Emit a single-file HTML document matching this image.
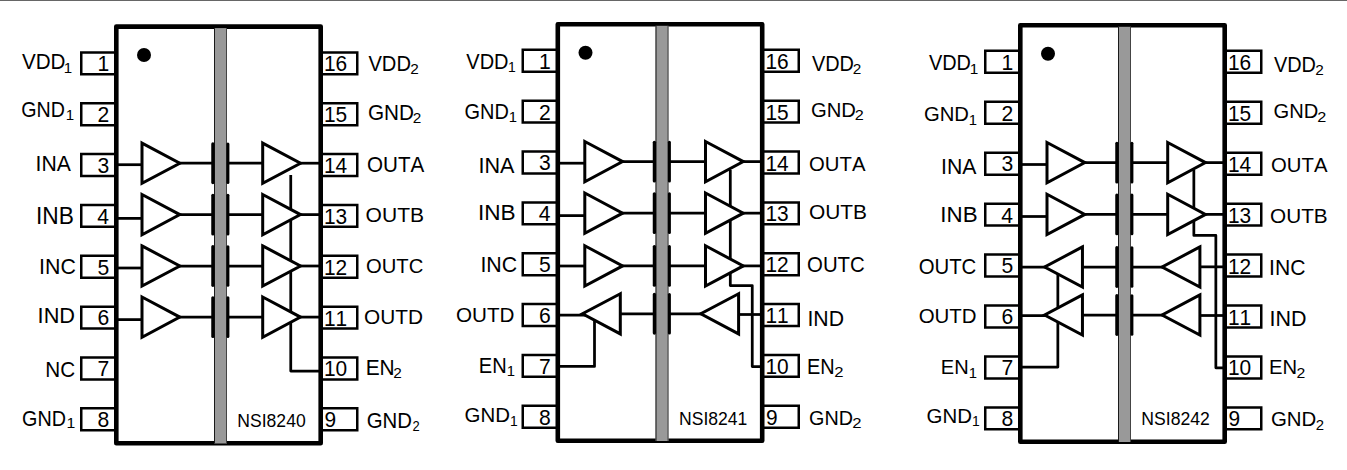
<!DOCTYPE html>
<html><head><meta charset="utf-8"><style>
html,body{margin:0;padding:0;background:#fff;}
body{width:1347px;height:470px;overflow:hidden;position:relative;}
.top{position:absolute;left:0;top:0;width:1347px;height:1px;background:#666;}
.top2{position:absolute;left:0;top:1px;width:1347px;height:1px;background:#fff;}
svg{position:absolute;left:0;top:0;}
text{font-family:"Liberation Sans",sans-serif;font-kerning:none;fill:#000;}
</style></head><body>
<svg width="1347" height="470" viewBox="0 0 1347 470">
<path d="M117,164.70 H146" fill="none" stroke="#000" stroke-width="2.75"/>
<path d="M175,163.20 H213" fill="none" stroke="#000" stroke-width="2.75"/>
<path d="M227,163.20 H266" fill="none" stroke="#000" stroke-width="2.75"/>
<path d="M295,163.20 H320" fill="none" stroke="#000" stroke-width="2.75"/>
<path d="M117,218.40 H146" fill="none" stroke="#000" stroke-width="2.75"/>
<path d="M175,214.60 H213" fill="none" stroke="#000" stroke-width="2.75"/>
<path d="M227,214.60 H266" fill="none" stroke="#000" stroke-width="2.75"/>
<path d="M295,214.60 H320" fill="none" stroke="#000" stroke-width="2.75"/>
<path d="M117,268.00 H146" fill="none" stroke="#000" stroke-width="2.75"/>
<path d="M175,266.00 H213" fill="none" stroke="#000" stroke-width="2.75"/>
<path d="M227,266.00 H266" fill="none" stroke="#000" stroke-width="2.75"/>
<path d="M295,266.00 H320" fill="none" stroke="#000" stroke-width="2.75"/>
<path d="M117,319.60 H146" fill="none" stroke="#000" stroke-width="2.75"/>
<path d="M175,317.10 H213" fill="none" stroke="#000" stroke-width="2.75"/>
<path d="M227,317.10 H266" fill="none" stroke="#000" stroke-width="2.75"/>
<path d="M295,317.10 H320" fill="none" stroke="#000" stroke-width="2.75"/>
<path d="M290.75,175 V371.1 H320" fill="none" stroke="#000" stroke-width="2.75" stroke-linejoin="round"/>
<path d="M142.00,143.10 L179.80,163.20 L142.00,183.30 Z" fill="#fff" stroke="#000" stroke-width="3.0" stroke-linejoin="miter"/>
<path d="M262.70,143.10 L300.50,163.20 L262.70,183.30 Z" fill="#fff" stroke="#000" stroke-width="3.0" stroke-linejoin="miter"/>
<path d="M142.00,194.50 L179.80,214.60 L142.00,234.70 Z" fill="#fff" stroke="#000" stroke-width="3.0" stroke-linejoin="miter"/>
<path d="M262.70,194.50 L300.50,214.60 L262.70,234.70 Z" fill="#fff" stroke="#000" stroke-width="3.0" stroke-linejoin="miter"/>
<path d="M142.00,245.90 L179.80,266.00 L142.00,286.10 Z" fill="#fff" stroke="#000" stroke-width="3.0" stroke-linejoin="miter"/>
<path d="M262.70,245.90 L300.50,266.00 L262.70,286.10 Z" fill="#fff" stroke="#000" stroke-width="3.0" stroke-linejoin="miter"/>
<path d="M142.00,297.00 L179.80,317.10 L142.00,337.20 Z" fill="#fff" stroke="#000" stroke-width="3.0" stroke-linejoin="miter"/>
<path d="M262.70,297.00 L300.50,317.10 L262.70,337.20 Z" fill="#fff" stroke="#000" stroke-width="3.0" stroke-linejoin="miter"/>
<path d="M116,52.40 H81.25 V74.30 H116" fill="#fff" stroke="#000" stroke-width="2.5"/>
<path d="M321,52.40 H357.25 V74.30 H321" fill="#fff" stroke="#000" stroke-width="2.5"/>
<path d="M116,103.25 H81.25 V125.15 H116" fill="#fff" stroke="#000" stroke-width="2.5"/>
<path d="M321,103.25 H357.25 V125.15 H321" fill="#fff" stroke="#000" stroke-width="2.5"/>
<path d="M116,154.10 H81.25 V176.00 H116" fill="#fff" stroke="#000" stroke-width="2.5"/>
<path d="M321,154.10 H357.25 V176.00 H321" fill="#fff" stroke="#000" stroke-width="2.5"/>
<path d="M116,204.95 H81.25 V226.85 H116" fill="#fff" stroke="#000" stroke-width="2.5"/>
<path d="M321,204.95 H357.25 V226.85 H321" fill="#fff" stroke="#000" stroke-width="2.5"/>
<path d="M116,255.80 H81.25 V277.70 H116" fill="#fff" stroke="#000" stroke-width="2.5"/>
<path d="M321,255.80 H357.25 V277.70 H321" fill="#fff" stroke="#000" stroke-width="2.5"/>
<path d="M116,306.65 H81.25 V328.55 H116" fill="#fff" stroke="#000" stroke-width="2.5"/>
<path d="M321,306.65 H357.25 V328.55 H321" fill="#fff" stroke="#000" stroke-width="2.5"/>
<path d="M116,357.50 H81.25 V379.40 H116" fill="#fff" stroke="#000" stroke-width="2.5"/>
<path d="M321,357.50 H357.25 V379.40 H321" fill="#fff" stroke="#000" stroke-width="2.5"/>
<path d="M116,408.35 H81.25 V430.25 H116" fill="#fff" stroke="#000" stroke-width="2.5"/>
<path d="M321,408.35 H357.25 V430.25 H321" fill="#fff" stroke="#000" stroke-width="2.5"/>
<rect x="116.3" y="26.6" width="204.4" height="416.59999999999997" fill="none" stroke="#000" stroke-width="4.6" stroke-linejoin="round"/>
<rect x="214" y="28.1" width="13" height="415.4" fill="#999"/>
<rect x="214" y="28.1" width="1.0" height="415.4" fill="#1a1a1a"/>
<rect x="226" y="28.1" width="1.0" height="415.4" fill="#444"/>
<line x1="212.9" y1="143.90" x2="212.9" y2="182.50" stroke="#000" stroke-width="3.3" stroke-linecap="round"/>
<line x1="227.9" y1="143.90" x2="227.9" y2="182.50" stroke="#000" stroke-width="3.0" stroke-linecap="round"/>
<line x1="212.9" y1="195.30" x2="212.9" y2="233.90" stroke="#000" stroke-width="3.3" stroke-linecap="round"/>
<line x1="227.9" y1="195.30" x2="227.9" y2="233.90" stroke="#000" stroke-width="3.0" stroke-linecap="round"/>
<line x1="212.9" y1="246.70" x2="212.9" y2="285.30" stroke="#000" stroke-width="3.3" stroke-linecap="round"/>
<line x1="227.9" y1="246.70" x2="227.9" y2="285.30" stroke="#000" stroke-width="3.0" stroke-linecap="round"/>
<line x1="212.9" y1="297.80" x2="212.9" y2="336.40" stroke="#000" stroke-width="3.3" stroke-linecap="round"/>
<line x1="227.9" y1="297.80" x2="227.9" y2="336.40" stroke="#000" stroke-width="3.0" stroke-linecap="round"/>
<circle cx="144" cy="55.00" r="7"/>
<text transform="translate(97.59,71.35) scale(0.9600,1)" font-size="22.00">1</text>
<text transform="translate(324.01,71.24) scale(0.9500,1)" font-size="22.00">16</text>
<text transform="translate(97.62,122.20) scale(0.9600,1)" font-size="22.00">2</text>
<text transform="translate(324.01,122.09) scale(0.9500,1)" font-size="22.00">15</text>
<text transform="translate(97.48,172.84) scale(0.9600,1)" font-size="22.00">3</text>
<text transform="translate(324.01,173.15) scale(0.9500,1)" font-size="22.00">14</text>
<text transform="translate(97.17,223.90) scale(0.9600,1)" font-size="22.00">4</text>
<text transform="translate(324.01,223.79) scale(0.9500,1)" font-size="22.00">13</text>
<text transform="translate(97.44,274.54) scale(0.9600,1)" font-size="22.00">5</text>
<text transform="translate(324.01,274.85) scale(0.9500,1)" font-size="22.00">12</text>
<text transform="translate(97.48,325.39) scale(0.9600,1)" font-size="22.00">6</text>
<text transform="translate(324.01,325.70) scale(0.9500,1)" font-size="22.00">11</text>
<text transform="translate(97.62,376.45) scale(0.9600,1)" font-size="22.00">7</text>
<text transform="translate(324.01,376.34) scale(0.9500,1)" font-size="22.00">10</text>
<text transform="translate(97.47,427.09) scale(0.9600,1)" font-size="22.00">8</text>
<text transform="translate(324.62,427.19) scale(0.9500,1)" font-size="22.00">9</text>
<text transform="translate(21.91,69.00) scale(0.9161,1)" font-size="22.53">VDD</text><text transform="translate(63.85,72.80) scale(1.0617,1)" font-size="14.20">1</text>
<text transform="translate(21.21,116.59) scale(0.9107,1)" font-size="21.61">GND</text><text transform="translate(65.85,119.80) scale(1.0617,1)" font-size="14.20">1</text>
<text transform="translate(35.55,170.80) scale(0.9220,1)" font-size="22.97">INA</text>
<text transform="translate(36.00,224.00) scale(0.9837,1)" font-size="23.11">INB</text>
<text transform="translate(39.03,273.78) scale(0.9694,1)" font-size="22.03">INC</text>
<text transform="translate(37.59,323.00) scale(0.9973,1)" font-size="21.80">IND</text>
<text transform="translate(45.30,377.39) scale(0.9638,1)" font-size="21.47">NC</text>
<text transform="translate(22.01,425.79) scale(0.9333,1)" font-size="21.19">GND</text><text transform="translate(66.40,428.40) scale(1.1107,1)" font-size="14.20">1</text>
<text transform="translate(368.41,70.80) scale(0.8776,1)" font-size="22.97">VDD</text><text transform="translate(410.23,74.00) scale(1.0821,1)" font-size="14.20">2</text>
<text transform="translate(367.96,119.79) scale(0.9778,1)" font-size="21.19">GND</text><text transform="translate(412.83,122.60) scale(1.0821,1)" font-size="14.20">2</text>
<text transform="translate(367.02,172.39) scale(0.9675,1)" font-size="21.33">OUTA</text>
<text transform="translate(365.60,222.20) scale(1.0076,1)" font-size="20.90">OUTB</text>
<text transform="translate(366.04,272.80) scale(0.9813,1)" font-size="20.62">OUTC</text>
<text transform="translate(364.01,324.20) scale(0.9960,1)" font-size="20.90">OUTD</text>
<text transform="translate(365.69,375.00) scale(0.9580,1)" font-size="21.80">EN</text><text transform="translate(393.23,378.40) scale(1.0821,1)" font-size="14.20">2</text>
<text transform="translate(366.67,427.79) scale(0.9622,1)" font-size="21.19">GND</text><text transform="translate(412.55,431.40) scale(0.9120,1)" font-size="14.20">2</text>
<text transform="translate(237.36,426.82) scale(0.9562,1)" font-size="18.36">NSI8240</text>
<path d="M558.5,163.20 H587.5" fill="none" stroke="#000" stroke-width="2.75"/>
<path d="M616.5,161.60 H654.5" fill="none" stroke="#000" stroke-width="2.75"/>
<path d="M668.5,161.60 H707.5" fill="none" stroke="#000" stroke-width="2.75"/>
<path d="M736.5,161.60 H761.5" fill="none" stroke="#000" stroke-width="2.75"/>
<path d="M558.5,215.60 H587.5" fill="none" stroke="#000" stroke-width="2.75"/>
<path d="M616.5,213.15 H654.5" fill="none" stroke="#000" stroke-width="2.75"/>
<path d="M668.5,213.15 H707.5" fill="none" stroke="#000" stroke-width="2.75"/>
<path d="M736.5,213.15 H761.5" fill="none" stroke="#000" stroke-width="2.75"/>
<path d="M558.5,266.00 H587.5" fill="none" stroke="#000" stroke-width="2.75"/>
<path d="M616.5,265.90 H654.5" fill="none" stroke="#000" stroke-width="2.75"/>
<path d="M668.5,265.90 H707.5" fill="none" stroke="#000" stroke-width="2.75"/>
<path d="M736.5,265.90 H761.5" fill="none" stroke="#000" stroke-width="2.75"/>
<path d="M558.5,315.00 H591.5" fill="none" stroke="#000" stroke-width="2.75"/>
<path d="M616.5,313.80 H654.5" fill="none" stroke="#000" stroke-width="2.75"/>
<path d="M668.5,313.80 H707.5" fill="none" stroke="#000" stroke-width="2.75"/>
<path d="M733.5,314.50 H761.5" fill="none" stroke="#000" stroke-width="2.75"/>
<path d="M594.5,320 V366.4 H558" fill="none" stroke="#000" stroke-width="2.75" stroke-linejoin="round"/>
<path d="M730.3,170 V285.6 H752.25 V366.6 H762" fill="none" stroke="#000" stroke-width="2.75" stroke-linejoin="round"/>
<path d="M584.80,141.50 L622.60,161.60 L584.80,181.70 Z" fill="#fff" stroke="#000" stroke-width="3.0" stroke-linejoin="miter"/>
<path d="M705.50,141.50 L743.30,161.60 L705.50,181.70 Z" fill="#fff" stroke="#000" stroke-width="3.0" stroke-linejoin="miter"/>
<path d="M584.80,193.05 L622.60,213.15 L584.80,233.25 Z" fill="#fff" stroke="#000" stroke-width="3.0" stroke-linejoin="miter"/>
<path d="M705.50,193.05 L743.30,213.15 L705.50,233.25 Z" fill="#fff" stroke="#000" stroke-width="3.0" stroke-linejoin="miter"/>
<path d="M584.80,245.80 L622.60,265.90 L584.80,286.00 Z" fill="#fff" stroke="#000" stroke-width="3.0" stroke-linejoin="miter"/>
<path d="M705.50,245.80 L743.30,265.90 L705.50,286.00 Z" fill="#fff" stroke="#000" stroke-width="3.0" stroke-linejoin="miter"/>
<path d="M620.30,293.70 L582.50,313.80 L620.30,333.90 Z" fill="#fff" stroke="#000" stroke-width="3.0" stroke-linejoin="miter"/>
<path d="M738.60,293.70 L700.80,313.80 L738.60,333.90 Z" fill="#fff" stroke="#000" stroke-width="3.0" stroke-linejoin="miter"/>
<path d="M557.5,49.80 H522.75 V71.70 H557.5" fill="#fff" stroke="#000" stroke-width="2.5"/>
<path d="M762.5,49.80 H798.75 V71.70 H762.5" fill="#fff" stroke="#000" stroke-width="2.5"/>
<path d="M557.5,100.66 H522.75 V122.56 H557.5" fill="#fff" stroke="#000" stroke-width="2.5"/>
<path d="M762.5,100.66 H798.75 V122.56 H762.5" fill="#fff" stroke="#000" stroke-width="2.5"/>
<path d="M557.5,151.52 H522.75 V173.42 H557.5" fill="#fff" stroke="#000" stroke-width="2.5"/>
<path d="M762.5,151.52 H798.75 V173.42 H762.5" fill="#fff" stroke="#000" stroke-width="2.5"/>
<path d="M557.5,202.38 H522.75 V224.28 H557.5" fill="#fff" stroke="#000" stroke-width="2.5"/>
<path d="M762.5,202.38 H798.75 V224.28 H762.5" fill="#fff" stroke="#000" stroke-width="2.5"/>
<path d="M557.5,253.24 H522.75 V275.14 H557.5" fill="#fff" stroke="#000" stroke-width="2.5"/>
<path d="M762.5,253.24 H798.75 V275.14 H762.5" fill="#fff" stroke="#000" stroke-width="2.5"/>
<path d="M557.5,304.10 H522.75 V326.00 H557.5" fill="#fff" stroke="#000" stroke-width="2.5"/>
<path d="M762.5,304.10 H798.75 V326.00 H762.5" fill="#fff" stroke="#000" stroke-width="2.5"/>
<path d="M557.5,354.96 H522.75 V376.86 H557.5" fill="#fff" stroke="#000" stroke-width="2.5"/>
<path d="M762.5,354.96 H798.75 V376.86 H762.5" fill="#fff" stroke="#000" stroke-width="2.5"/>
<path d="M557.5,405.82 H522.75 V427.72 H557.5" fill="#fff" stroke="#000" stroke-width="2.5"/>
<path d="M762.5,405.82 H798.75 V427.72 H762.5" fill="#fff" stroke="#000" stroke-width="2.5"/>
<rect x="557.8" y="24.3" width="204.4" height="416.4" fill="none" stroke="#000" stroke-width="4.6" stroke-linejoin="round"/>
<rect x="655.5" y="25.8" width="13" height="415.2" fill="#999"/>
<rect x="655.5" y="25.8" width="1.0" height="415.2" fill="#1a1a1a"/>
<rect x="667.5" y="25.8" width="1.0" height="415.2" fill="#444"/>
<line x1="654.4" y1="142.30" x2="654.4" y2="180.90" stroke="#000" stroke-width="3.3" stroke-linecap="round"/>
<line x1="669.4" y1="142.30" x2="669.4" y2="180.90" stroke="#000" stroke-width="3.0" stroke-linecap="round"/>
<line x1="654.4" y1="193.85" x2="654.4" y2="232.45" stroke="#000" stroke-width="3.3" stroke-linecap="round"/>
<line x1="669.4" y1="193.85" x2="669.4" y2="232.45" stroke="#000" stroke-width="3.0" stroke-linecap="round"/>
<line x1="654.4" y1="246.60" x2="654.4" y2="285.20" stroke="#000" stroke-width="3.3" stroke-linecap="round"/>
<line x1="669.4" y1="246.60" x2="669.4" y2="285.20" stroke="#000" stroke-width="3.0" stroke-linecap="round"/>
<line x1="654.4" y1="294.50" x2="654.4" y2="333.10" stroke="#000" stroke-width="3.3" stroke-linecap="round"/>
<line x1="669.4" y1="294.50" x2="669.4" y2="333.10" stroke="#000" stroke-width="3.0" stroke-linecap="round"/>
<circle cx="585.5" cy="52.70" r="7"/>
<text transform="translate(539.09,68.75) scale(0.9600,1)" font-size="22.00">1</text>
<text transform="translate(765.51,68.64) scale(0.9500,1)" font-size="22.00">16</text>
<text transform="translate(539.12,119.61) scale(0.9600,1)" font-size="22.00">2</text>
<text transform="translate(765.51,119.50) scale(0.9500,1)" font-size="22.00">15</text>
<text transform="translate(538.98,170.26) scale(0.9600,1)" font-size="22.00">3</text>
<text transform="translate(765.51,170.57) scale(0.9500,1)" font-size="22.00">14</text>
<text transform="translate(538.67,221.33) scale(0.9600,1)" font-size="22.00">4</text>
<text transform="translate(765.51,221.22) scale(0.9500,1)" font-size="22.00">13</text>
<text transform="translate(538.94,271.98) scale(0.9600,1)" font-size="22.00">5</text>
<text transform="translate(765.51,272.29) scale(0.9500,1)" font-size="22.00">12</text>
<text transform="translate(538.98,322.84) scale(0.9600,1)" font-size="22.00">6</text>
<text transform="translate(765.51,323.15) scale(0.9500,1)" font-size="22.00">11</text>
<text transform="translate(539.12,373.91) scale(0.9600,1)" font-size="22.00">7</text>
<text transform="translate(765.51,373.80) scale(0.9500,1)" font-size="22.00">10</text>
<text transform="translate(538.97,424.56) scale(0.9600,1)" font-size="22.00">8</text>
<text transform="translate(766.12,424.66) scale(0.9500,1)" font-size="22.00">9</text>
<text transform="translate(466.31,69.00) scale(0.8939,1)" font-size="22.38">VDD</text><text transform="translate(507.94,72.40) scale(0.9800,1)" font-size="14.20">1</text>
<text transform="translate(464.60,119.39) scale(0.9298,1)" font-size="21.47">GND</text><text transform="translate(508.87,122.40) scale(1.0453,1)" font-size="14.20">1</text>
<text transform="translate(478.40,173.00) scale(0.9658,1)" font-size="22.38">INA</text>
<text transform="translate(477.91,220.40) scale(1.0097,1)" font-size="22.38">INB</text>
<text transform="translate(480.43,271.78) scale(0.9694,1)" font-size="22.03">INC</text>
<text transform="translate(456.02,322.20) scale(0.9890,1)" font-size="20.90">OUTD</text>
<text transform="translate(478.75,372.60) scale(0.9458,1)" font-size="21.22">EN</text><text transform="translate(506.87,376.00) scale(1.0453,1)" font-size="14.20">1</text>
<text transform="translate(464.57,422.21) scale(1.0333,1)" font-size="19.77">GND</text><text transform="translate(509.94,425.60) scale(0.9800,1)" font-size="14.20">1</text>
<text transform="translate(811.91,71.00) scale(0.9133,1)" font-size="21.80">VDD</text><text transform="translate(852.83,73.60) scale(1.0821,1)" font-size="14.20">2</text>
<text transform="translate(810.98,117.41) scale(1.0238,1)" font-size="19.77">GND</text><text transform="translate(854.78,120.40) scale(1.1439,1)" font-size="14.20">2</text>
<text transform="translate(809.04,170.80) scale(0.9846,1)" font-size="20.62">OUTA</text>
<text transform="translate(809.01,218.81) scale(1.0576,1)" font-size="19.77">OUTB</text>
<text transform="translate(807.03,271.79) scale(0.9620,1)" font-size="21.19">OUTC</text>
<text transform="translate(807.44,325.60) scale(0.9613,1)" font-size="22.09">IND</text>
<text transform="translate(806.97,373.60) scale(0.9382,1)" font-size="21.22">EN</text><text transform="translate(834.16,377.00) scale(1.1748,1)" font-size="14.20">2</text>
<text transform="translate(809.01,424.81) scale(1.0000,1)" font-size="19.77">GND</text><text transform="translate(852.16,428.00) scale(1.1748,1)" font-size="14.20">2</text>
<text transform="translate(679.06,424.82) scale(0.9558,1)" font-size="18.36">NSI8241</text>
<path d="M1021,164.50 H1050" fill="none" stroke="#000" stroke-width="2.75"/>
<path d="M1079,162.60 H1117" fill="none" stroke="#000" stroke-width="2.75"/>
<path d="M1131,162.60 H1170" fill="none" stroke="#000" stroke-width="2.75"/>
<path d="M1199,162.60 H1224" fill="none" stroke="#000" stroke-width="2.75"/>
<path d="M1021,216.50 H1050" fill="none" stroke="#000" stroke-width="2.75"/>
<path d="M1079,214.40 H1117" fill="none" stroke="#000" stroke-width="2.75"/>
<path d="M1131,214.40 H1170" fill="none" stroke="#000" stroke-width="2.75"/>
<path d="M1199,214.40 H1224" fill="none" stroke="#000" stroke-width="2.75"/>
<path d="M1021,267.10 H1054" fill="none" stroke="#000" stroke-width="2.75"/>
<path d="M1079,267.00 H1117" fill="none" stroke="#000" stroke-width="2.75"/>
<path d="M1131,267.00 H1170" fill="none" stroke="#000" stroke-width="2.75"/>
<path d="M1196,266.85 H1224" fill="none" stroke="#000" stroke-width="2.75"/>
<path d="M1021,315.60 H1054" fill="none" stroke="#000" stroke-width="2.75"/>
<path d="M1079,315.00 H1117" fill="none" stroke="#000" stroke-width="2.75"/>
<path d="M1131,315.00 H1170" fill="none" stroke="#000" stroke-width="2.75"/>
<path d="M1196,315.50 H1224" fill="none" stroke="#000" stroke-width="2.75"/>
<path d="M1057.85,272 V367 H1020" fill="none" stroke="#000" stroke-width="2.75" stroke-linejoin="round"/>
<path d="M1193.85,170 V235.4 H1215.85 V367.85 H1224" fill="none" stroke="#000" stroke-width="2.75" stroke-linejoin="round"/>
<path d="M1047.00,142.50 L1084.80,162.60 L1047.00,182.70 Z" fill="#fff" stroke="#000" stroke-width="3.0" stroke-linejoin="miter"/>
<path d="M1167.70,142.50 L1205.50,162.60 L1167.70,182.70 Z" fill="#fff" stroke="#000" stroke-width="3.0" stroke-linejoin="miter"/>
<path d="M1047.00,194.30 L1084.80,214.40 L1047.00,234.50 Z" fill="#fff" stroke="#000" stroke-width="3.0" stroke-linejoin="miter"/>
<path d="M1167.70,194.30 L1205.50,214.40 L1167.70,234.50 Z" fill="#fff" stroke="#000" stroke-width="3.0" stroke-linejoin="miter"/>
<path d="M1082.45,246.90 L1044.65,267.00 L1082.45,287.10 Z" fill="#fff" stroke="#000" stroke-width="3.0" stroke-linejoin="miter"/>
<path d="M1199.90,246.90 L1162.10,267.00 L1199.90,287.10 Z" fill="#fff" stroke="#000" stroke-width="3.0" stroke-linejoin="miter"/>
<path d="M1082.45,294.90 L1044.65,315.00 L1082.45,335.10 Z" fill="#fff" stroke="#000" stroke-width="3.0" stroke-linejoin="miter"/>
<path d="M1199.90,294.90 L1162.10,315.00 L1199.90,335.10 Z" fill="#fff" stroke="#000" stroke-width="3.0" stroke-linejoin="miter"/>
<path d="M1020,50.85 H985.25 V72.75 H1020" fill="#fff" stroke="#000" stroke-width="2.5"/>
<path d="M1225,50.85 H1261.25 V72.75 H1225" fill="#fff" stroke="#000" stroke-width="2.5"/>
<path d="M1020,101.79 H985.25 V123.69 H1020" fill="#fff" stroke="#000" stroke-width="2.5"/>
<path d="M1225,101.79 H1261.25 V123.69 H1225" fill="#fff" stroke="#000" stroke-width="2.5"/>
<path d="M1020,152.73 H985.25 V174.63 H1020" fill="#fff" stroke="#000" stroke-width="2.5"/>
<path d="M1225,152.73 H1261.25 V174.63 H1225" fill="#fff" stroke="#000" stroke-width="2.5"/>
<path d="M1020,203.67 H985.25 V225.57 H1020" fill="#fff" stroke="#000" stroke-width="2.5"/>
<path d="M1225,203.67 H1261.25 V225.57 H1225" fill="#fff" stroke="#000" stroke-width="2.5"/>
<path d="M1020,254.61 H985.25 V276.51 H1020" fill="#fff" stroke="#000" stroke-width="2.5"/>
<path d="M1225,254.61 H1261.25 V276.51 H1225" fill="#fff" stroke="#000" stroke-width="2.5"/>
<path d="M1020,305.55 H985.25 V327.45 H1020" fill="#fff" stroke="#000" stroke-width="2.5"/>
<path d="M1225,305.55 H1261.25 V327.45 H1225" fill="#fff" stroke="#000" stroke-width="2.5"/>
<path d="M1020,356.49 H985.25 V378.39 H1020" fill="#fff" stroke="#000" stroke-width="2.5"/>
<path d="M1225,356.49 H1261.25 V378.39 H1225" fill="#fff" stroke="#000" stroke-width="2.5"/>
<path d="M1020,407.43 H985.25 V429.33 H1020" fill="#fff" stroke="#000" stroke-width="2.5"/>
<path d="M1225,407.43 H1261.25 V429.33 H1225" fill="#fff" stroke="#000" stroke-width="2.5"/>
<rect x="1020.3" y="25.3" width="204.4" height="416.4" fill="none" stroke="#000" stroke-width="4.6" stroke-linejoin="round"/>
<rect x="1118" y="26.8" width="13" height="415.2" fill="#999"/>
<rect x="1118" y="26.8" width="1.0" height="415.2" fill="#1a1a1a"/>
<rect x="1130" y="26.8" width="1.0" height="415.2" fill="#444"/>
<line x1="1116.9" y1="143.30" x2="1116.9" y2="181.90" stroke="#000" stroke-width="3.3" stroke-linecap="round"/>
<line x1="1131.9" y1="143.30" x2="1131.9" y2="181.90" stroke="#000" stroke-width="3.0" stroke-linecap="round"/>
<line x1="1116.9" y1="195.10" x2="1116.9" y2="233.70" stroke="#000" stroke-width="3.3" stroke-linecap="round"/>
<line x1="1131.9" y1="195.10" x2="1131.9" y2="233.70" stroke="#000" stroke-width="3.0" stroke-linecap="round"/>
<line x1="1116.9" y1="247.70" x2="1116.9" y2="286.30" stroke="#000" stroke-width="3.3" stroke-linecap="round"/>
<line x1="1131.9" y1="247.70" x2="1131.9" y2="286.30" stroke="#000" stroke-width="3.0" stroke-linecap="round"/>
<line x1="1116.9" y1="295.70" x2="1116.9" y2="334.30" stroke="#000" stroke-width="3.3" stroke-linecap="round"/>
<line x1="1131.9" y1="295.70" x2="1131.9" y2="334.30" stroke="#000" stroke-width="3.0" stroke-linecap="round"/>
<circle cx="1048" cy="53.70" r="7"/>
<text transform="translate(1001.59,69.80) scale(0.9600,1)" font-size="22.00">1</text>
<text transform="translate(1228.01,69.69) scale(0.9500,1)" font-size="22.00">16</text>
<text transform="translate(1001.62,120.74) scale(0.9600,1)" font-size="22.00">2</text>
<text transform="translate(1228.01,120.63) scale(0.9500,1)" font-size="22.00">15</text>
<text transform="translate(1001.48,171.47) scale(0.9600,1)" font-size="22.00">3</text>
<text transform="translate(1228.01,171.78) scale(0.9500,1)" font-size="22.00">14</text>
<text transform="translate(1001.17,222.62) scale(0.9600,1)" font-size="22.00">4</text>
<text transform="translate(1228.01,222.51) scale(0.9500,1)" font-size="22.00">13</text>
<text transform="translate(1001.44,273.35) scale(0.9600,1)" font-size="22.00">5</text>
<text transform="translate(1228.01,273.66) scale(0.9500,1)" font-size="22.00">12</text>
<text transform="translate(1001.48,324.29) scale(0.9600,1)" font-size="22.00">6</text>
<text transform="translate(1228.01,324.60) scale(0.9500,1)" font-size="22.00">11</text>
<text transform="translate(1001.62,375.44) scale(0.9600,1)" font-size="22.00">7</text>
<text transform="translate(1228.01,375.33) scale(0.9500,1)" font-size="22.00">10</text>
<text transform="translate(1001.47,426.17) scale(0.9600,1)" font-size="22.00">8</text>
<text transform="translate(1228.62,426.27) scale(0.9500,1)" font-size="22.00">9</text>
<text transform="translate(928.91,69.60) scale(0.9013,1)" font-size="22.09">VDD</text><text transform="translate(969.83,73.60) scale(1.0780,1)" font-size="14.20">1</text>
<text transform="translate(923.98,121.40) scale(0.9817,1)" font-size="20.62">GND</text><text transform="translate(968.87,125.00) scale(1.0453,1)" font-size="14.20">1</text>
<text transform="translate(941.04,173.60) scale(0.9612,1)" font-size="22.09">INA</text>
<text transform="translate(940.34,221.60) scale(1.0111,1)" font-size="22.09">INB</text>
<text transform="translate(918.63,274.19) scale(0.9370,1)" font-size="21.75">OUTC</text>
<text transform="translate(918.63,323.40) scale(0.9919,1)" font-size="20.62">OUTD</text>
<text transform="translate(940.75,374.40) scale(0.9590,1)" font-size="20.93">EN</text><text transform="translate(968.87,377.60) scale(1.0453,1)" font-size="14.20">1</text>
<text transform="translate(926.57,422.81) scale(1.0333,1)" font-size="19.77">GND</text><text transform="translate(971.94,426.40) scale(0.9800,1)" font-size="14.20">1</text>
<text transform="translate(1273.91,72.00) scale(0.9133,1)" font-size="21.80">VDD</text><text transform="translate(1315.23,75.00) scale(1.0821,1)" font-size="14.20">2</text>
<text transform="translate(1273.59,118.20) scale(0.9907,1)" font-size="20.34">GND</text><text transform="translate(1317.18,121.60) scale(1.1439,1)" font-size="14.20">2</text>
<text transform="translate(1271.04,171.80) scale(0.9983,1)" font-size="20.34">OUTA</text>
<text transform="translate(1270.02,223.40) scale(1.0069,1)" font-size="20.62">OUTB</text>
<text transform="translate(1269.05,274.79) scale(0.9704,1)" font-size="21.75">INC</text>
<text transform="translate(1269.42,326.40) scale(0.9601,1)" font-size="22.38">IND</text>
<text transform="translate(1268.94,374.40) scale(0.9668,1)" font-size="20.93">EN</text><text transform="translate(1296.61,377.60) scale(1.1130,1)" font-size="14.20">2</text>
<text transform="translate(1270.97,426.20) scale(1.0046,1)" font-size="20.34">GND</text><text transform="translate(1315.85,430.00) scale(1.0512,1)" font-size="14.20">2</text>
<text transform="translate(1141.36,425.33) scale(0.9974,1)" font-size="17.66">NSI8242</text>
</svg>
<div class="top"></div><div class="top2"></div>
</body></html>
